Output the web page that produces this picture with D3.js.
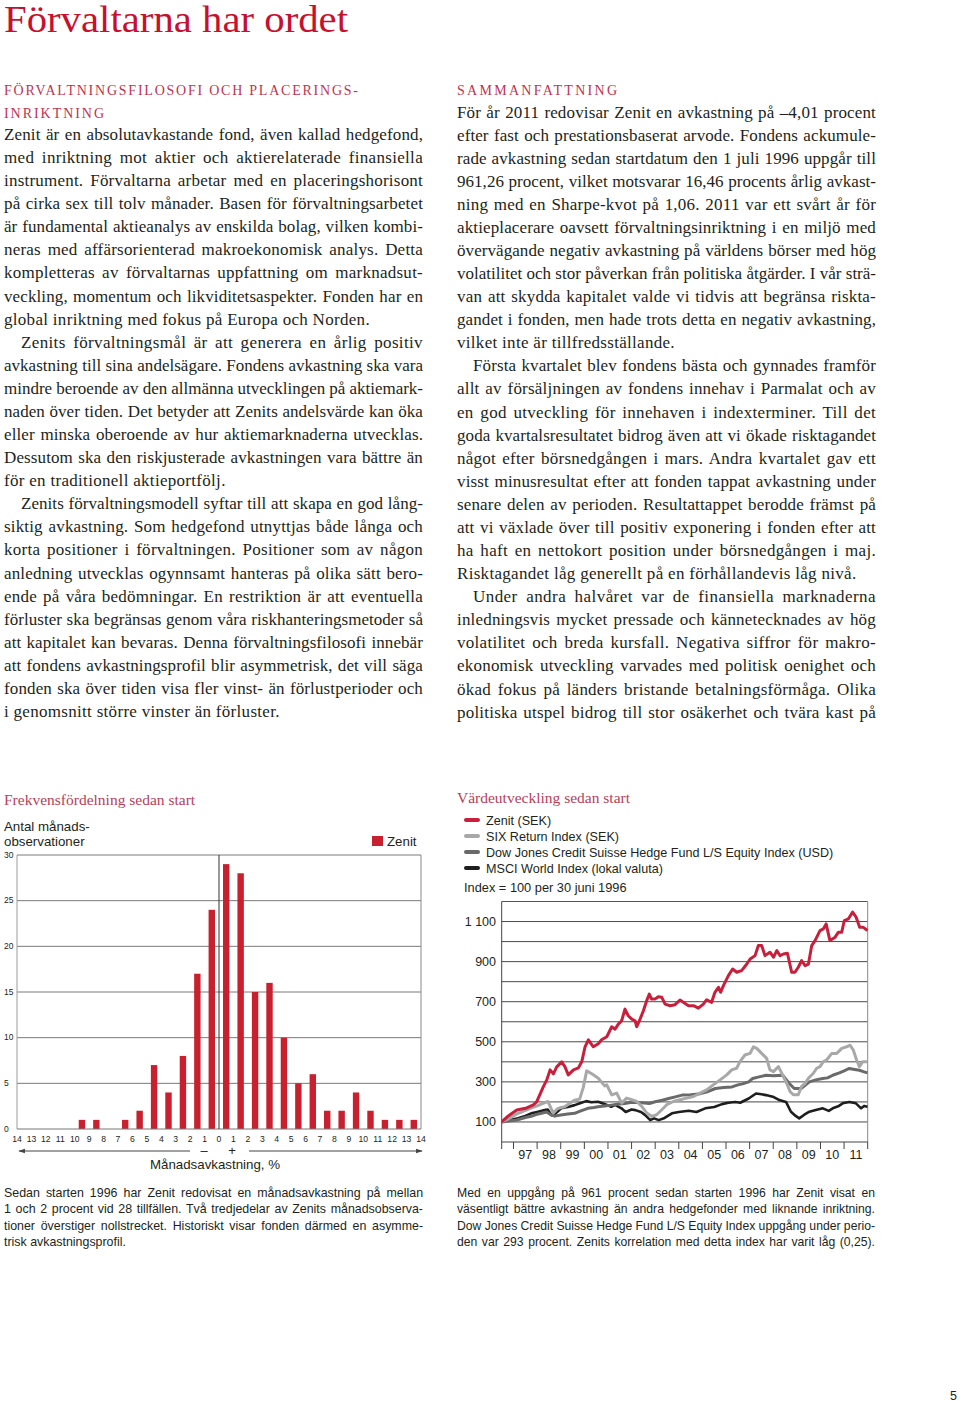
<!DOCTYPE html>
<html><head><meta charset="utf-8">
<script src="https://cdn.jsdelivr.net/npm/d3@7"></script>
<style>
body{margin:0;background:#fff;}
svg{display:block;}
.serif{font-family:"Liberation Serif","Times New Roman",serif;}
.sans{font-family:"Liberation Sans",Arial,sans-serif;}
</style>
</head><body>
<script>
// ---------- DATA ----------
const histBins = [-14,-13,-12,-11,-10,-9,-8,-7,-6,-5,-4,-3,-2,-1,0,1,2,3,4,5,6,7,8,9,10,11,12,13];
const histCounts = [0,0,0,0,1,1,0,1,2,7,4,8,17,24,29,28,15,16,10,5,6,2,2,4,2,1,1,1];
const histTicks = [-14,-13,-12,-11,-10,-9,-8,-7,-6,-5,-4,-3,-2,-1,0,1,2,3,4,5,6,7,8,9,10,11,12,13,14];
const histTickLabels = ["14","13","12","11","10","9","8","7","6","5","4","3","2","1","0","1","2","3","4","5","6","7","8","9","10","11","12","13","14"];
const histYTicks = [0,5,10,15,20,25,30];

const zenit = [[1996.50,100],[1996.78,130],[1997.14,160],[1997.56,170],[1997.84,185],[1997.98,200],[1998.26,275],[1998.41,310],[1998.55,360],[1998.69,340],[1998.83,375],[1999.04,400],[1999.18,375],[1999.32,335],[1999.54,360],[1999.75,370],[1999.89,400],[2000.03,475],[2000.17,510],[2000.38,475],[2000.59,490],[2000.73,510],[2000.95,525],[2001.16,575],[2001.30,563],[2001.44,588],[2001.58,605],[2001.72,663],[2001.86,630],[2002.01,613],[2002.15,605],[2002.22,575],[2002.36,613],[2002.50,655],[2002.64,705],[2002.75,738],[2002.85,713],[2002.99,713],[2003.13,725],[2003.28,722],[2003.42,688],[2003.63,680],[2003.84,685],[2004.05,708],[2004.19,697],[2004.41,680],[2004.62,680],[2004.83,668],[2005.04,688],[2005.18,710],[2005.39,697],[2005.53,747],[2005.68,772],[2005.77,747],[2005.89,780],[2006.10,830],[2006.28,863],[2006.45,847],[2006.66,855],[2006.88,888],[2007.02,913],[2007.23,930],[2007.37,980],[2007.51,980],[2007.65,930],[2007.86,947],[2008.01,922],[2008.15,955],[2008.29,930],[2008.43,938],[2008.60,942],[2008.78,847],[2008.92,847],[2009.06,872],[2009.20,905],[2009.35,880],[2009.49,888],[2009.63,980],[2009.77,1005],[2009.98,1055],[2010.12,1063],[2010.24,1088],[2010.40,1005],[2010.62,1022],[2010.76,1047],[2010.90,1047],[2011.01,1105],[2011.18,1113],[2011.36,1147],[2011.51,1122],[2011.66,1072],[2011.80,1072],[2011.99,1055]];
const six = [[1996.50,100],[1996.78,115],[1997.14,140],[1997.56,160],[1997.74,169],[1998.00,180],[1998.30,195],[1998.46,202],[1998.60,165],[1998.69,145],[1998.85,165],[1999.02,172],[1999.17,176],[1999.40,195],[1999.59,209],[1999.80,214],[1999.95,270],[2000.10,355],[2000.28,343],[2000.38,335],[2000.59,318],[2000.86,280],[2000.95,285],[2001.16,235],[2001.37,244],[2001.58,194],[2001.79,219],[2002.01,211],[2002.22,202],[2002.43,178],[2002.64,145],[2002.85,128],[2003.06,136],[2003.28,161],[2003.49,186],[2003.77,202],[2004.05,211],[2004.33,219],[2004.62,227],[2004.90,244],[2005.18,260],[2005.46,285],[2005.75,310],[2006.03,335],[2006.24,360],[2006.45,368],[2006.59,401],[2006.80,434],[2007.02,442],[2007.16,475],[2007.30,467],[2007.51,442],[2007.72,417],[2007.86,360],[2008.01,351],[2008.22,376],[2008.36,343],[2008.57,293],[2008.71,252],[2008.85,236],[2009.06,236],[2009.20,277],[2009.35,293],[2009.49,318],[2009.70,343],[2009.84,368],[2009.98,376],[2010.12,401],[2010.26,409],[2010.48,442],[2010.69,442],[2010.90,467],[2011.11,475],[2011.25,483],[2011.39,459],[2011.53,409],[2011.65,376],[2011.79,401],[2011.99,401]];
const djcs = [[1996.50,100],[1996.80,105],[1997.14,110],[1997.50,122],[1997.80,130],[1998.05,140],[1998.40,150],[1998.60,135],[1998.74,129],[1999.00,135],[1999.30,140],[1999.59,143],[1999.85,155],[2000.15,168],[2000.40,172],[2000.58,176],[2000.85,180],[2001.14,184],[2001.40,188],[2001.71,192],[2002.00,198],[2002.44,196],[2002.75,192],[2003.00,201],[2003.30,208],[2003.57,217],[2003.85,225],[2004.14,234],[2004.50,236],[2004.84,239],[2005.20,250],[2005.55,267],[2005.90,272],[2006.25,275],[2006.50,285],[2006.70,290],[2006.96,300],[2007.13,317],[2007.40,325],[2007.69,333],[2008.00,330],[2008.40,333],[2008.68,292],[2008.89,267],[2009.18,267],[2009.53,300],[2009.80,310],[2010.10,317],[2010.30,320],[2010.52,333],[2010.80,345],[2011.00,355],[2011.22,367],[2011.45,362],[2011.65,358],[2011.85,350],[2011.99,345]];
const msci = [[1996.50,100],[1996.80,108],[1997.19,118],[1997.50,130],[1997.75,143],[1998.00,150],[1998.32,159],[1998.45,162],[1998.60,134],[1998.75,140],[1999.02,168],[1999.30,175],[1999.59,184],[1999.85,195],[2000.08,204],[2000.30,198],[2000.58,201],[2000.85,190],[2001.14,176],[2001.30,185],[2001.57,168],[2001.75,150],[2002.00,162],[2002.16,159],[2002.40,150],[2002.58,134],[2002.79,109],[2002.95,118],[2003.15,109],[2003.40,120],[2003.71,143],[2004.00,150],[2004.42,156],[2004.75,150],[2005.12,168],[2005.50,175],[2005.83,189],[2006.10,196],[2006.39,200],[2006.60,196],[2006.96,217],[2007.27,242],[2007.50,238],[2007.69,234],[2007.98,226],[2008.26,209],[2008.54,200],[2008.75,151],[2008.95,130],[2009.10,118],[2009.30,135],[2009.53,151],[2009.80,160],[2010.10,168],[2010.35,155],[2010.52,168],[2010.75,178],[2010.94,193],[2011.22,200],[2011.50,193],[2011.72,168],[2011.85,180],[2011.99,176]];
const lineSeriesNames = ["Zenit (SEK)","SIX Return Index (SEK)","Dow Jones Credit Suisse Hedge Fund L/S Equity Index (USD)","MSCI World Index (lokal valuta)"];
const lineYTicks = [100,200,300,400,500,600,700,800,900,1000,1100];
const lineYLabels = [100,300,500,700,900,1100];
const yearTicks = [1996.5,1997,1998,1999,2000,2001,2002,2003,2004,2005,2006,2007,2008,2009,2010,2011,2012];
const yearLabels = ["97","98","99","00","01","02","03","04","05","06","07","08","09","10","11"];

// ---------- TEXT ----------
const leftHead = ["FÖRVALTNINGSFILOSOFI OCH PLACERINGS-","INRIKTNING"];
const leftLines = [
["Zenit är en absolutavkastande fond, även kallad hedgefond,",0,1],
["med inriktning mot aktier och aktierelaterade finansiella",0,1],
["instrument. Förvaltarna arbetar med en placeringshorisont",0,1],
["på cirka sex till tolv månader. Basen för förvaltningsarbetet",0,1],
["är fundamental aktieanalys av enskilda bolag, vilken kombi-",0,1],
["neras med affärsorienterad makroekonomisk analys. Detta",0,1],
["kompletteras av förvaltarnas uppfattning om marknadsut-",0,1],
["veckling, momentum och likviditetsaspekter. Fonden har en",0,1],
["global inriktning med fokus på Europa och Norden.",0,0],
["Zenits förvaltningsmål är att generera en årlig positiv",1,1],
["avkastning till sina andelsägare. Fondens avkastning ska vara",0,1],
["mindre beroende av den allmänna utvecklingen på aktiemark-",0,1],
["naden över tiden. Det betyder att Zenits andelsvärde kan öka",0,1],
["eller minska oberoende av hur aktiemarknaderna utvecklas.",0,1],
["Dessutom ska den riskjusterade avkastningen vara bättre än",0,1],
["för en traditionell aktieportfölj.",0,0],
["Zenits förvaltningsmodell syftar till att skapa en god lång-",1,1],
["siktig avkastning. Som hedgefond utnyttjas både långa och",0,1],
["korta positioner i förvaltningen. Positioner som av någon",0,1],
["anledning utvecklas ogynnsamt hanteras på olika sätt bero-",0,1],
["ende på våra bedömningar. En restriktion är att eventuella",0,1],
["förluster ska begränsas genom våra riskhanteringsmetoder så",0,1],
["att kapitalet kan bevaras. Denna förvaltningsfilosofi innebär",0,1],
["att fondens avkastningsprofil blir asymmetrisk, det vill säga",0,1],
["fonden ska över tiden visa fler vinst- än förlustperioder och",0,1],
["i genomsnitt större vinster än förluster.",0,0]];
const rightLines = [
["För år 2011 redovisar Zenit en avkastning på –4,01 procent",0,1],
["efter fast och prestationsbaserat arvode. Fondens ackumule-",0,1],
["rade avkastning sedan startdatum den 1 juli 1996 uppgår till",0,1],
["961,26 procent, vilket motsvarar 16,46 procents årlig avkast-",0,1],
["ning med en Sharpe-kvot på 1,06. 2011 var ett svårt år för",0,1],
["aktieplacerare oavsett förvaltningsinriktning i en miljö med",0,1],
["övervägande negativ avkastning på världens börser med hög",0,1],
["volatilitet och stor påverkan från politiska åtgärder. I vår strä-",0,1],
["van att skydda kapitalet valde vi tidvis att begränsa riskta-",0,1],
["gandet i fonden, men hade trots detta en negativ avkastning,",0,1],
["vilket inte är tillfredsställande.",0,0],
["Första kvartalet blev fondens bästa och gynnades framför",1,1],
["allt av försäljningen av fondens innehav i Parmalat och av",0,1],
["en god utveckling för innehaven i indexterminer. Till det",0,1],
["goda kvartalsresultatet bidrog även att vi ökade risktagandet",0,1],
["något efter börsnedgången i mars. Andra kvartalet gav ett",0,1],
["visst minusresultat efter att fonden tappat avkastning under",0,1],
["senare delen av perioden. Resultattappet berodde främst på",0,1],
["att vi växlade över till positiv exponering i fonden efter att",0,1],
["ha haft en nettokort position under börsnedgången i maj.",0,1],
["Risktagandet låg generellt på en förhållandevis låg nivå.",0,0],
["Under andra halvåret var de finansiella marknaderna",1,1],
["inledningsvis mycket pressade och kännetecknades av hög",0,1],
["volatilitet och breda kursfall. Negativa siffror för makro-",0,1],
["ekonomisk utveckling varvades med politisk oenighet och",0,1],
["ökad fokus på länders bristande betalningsförmåga. Olika",0,1],
["politiska utspel bidrog till stor osäkerhet och tvära kast på",0,1]];
const leftCaption = [
["Sedan starten 1996 har Zenit redovisat en månadsavkastning på mellan",419],
["1 och 2 procent vid 28 tillfällen. Två tredjedelar av Zenits månadsobserva-",419],
["tioner överstiger nollstrecket. Historiskt visar fonden därmed en asymme-",419],
["trisk avkastningsprofil.",0]];
const rightCaption = [
["Med en uppgång på 961 procent sedan starten 1996 har Zenit visat en",418],
["väsentligt bättre avkastning än andra hedgefonder med liknande inriktning.",418],
["Dow Jones Credit Suisse Hedge Fund L/S Equity Index uppgång under perio-",418],
["den var 293 procent. Zenits korrelation med detta index har varit låg (0,25).",418]];

// ---------- DRAW ----------
const RED = "#c8102e", HEAD = "#c0334f", TXT = "#231f20";
const svg = d3.select("body").append("svg").attr("width",960).attr("height",1402);

// simple text line; optional justification to a target width
function tline(g, str, x, y, target, size, cls, fill, ls){
  const t = g.append("text").attr("x",x).attr("y",y).attr("class",cls)
    .attr("font-size",size).attr("fill",fill||TXT).text(str);
  if(ls) t.attr("letter-spacing",ls);
  if(target){
    const w = t.node().getComputedTextLength();
    const n = (str.match(/ /g)||[]).length;
    if(n>0) t.attr("word-spacing",((target-w)/n).toFixed(2));
    else t.attr("textLength",target).attr("lengthAdjust","spacing");
  }
  return t;
}
// justified body line: split the slack between letter and word spacing
function jline(g, str, x, y, target, size, lsDefault){
  const t = g.append("text").attr("x",x).attr("y",y).attr("class","serif")
    .attr("font-size",size).attr("fill",TXT).text(str);
  if(!target){ t.attr("letter-spacing",lsDefault); return t; }
  const w0 = t.node().getComputedTextLength();
  const diff = target - w0;
  let ls = diff*0.5/str.length;
  ls = Math.max(-0.45, Math.min(0.55, ls));
  t.attr("letter-spacing",ls.toFixed(3));
  const w1 = t.node().getComputedTextLength();
  const n = (str.match(/ /g)||[]).length;
  const w1b = (Math.abs(w1-w0) < 1e-6 && Math.abs(ls)>0.001) ? w0 + ls*str.length : w1;
  if(n>0) t.attr("word-spacing",((target-w1b)/n).toFixed(2));
  return t;
}

// title
svg.append("text").attr("x",4).attr("y",32).attr("class","serif").attr("font-size",37)
  .attr("fill",RED).attr("textLength",344).attr("lengthAdjust","spacingAndGlyphs").text("Förvaltarna har ordet");

// headings
const hg = svg.append("g");
[[leftHead[0],4,95,354],[leftHead[1],4,118,100],["SAMMANFATTNING",457,95,160]].forEach(h=>{
  hg.append("text").attr("x",h[1]).attr("y",h[2]).attr("class","serif").attr("font-size",14)
   .attr("fill",HEAD).attr("textLength",h[3]).attr("lengthAdjust","spacing").text(h[0]);
});

// body columns
const bodyG = svg.append("g");
const LH = 23.08, FS = 17;
leftLines.forEach((l,i)=>{
  const x = l[1] ? 21 : 4;
  const target = l[2]===1 ? 423 - x : 0;
  jline(bodyG, l[0], x, 140 + i*LH, target, FS, 0.3);
});
rightLines.forEach((l,i)=>{
  const x = l[1] ? 473 : 457;
  const target = l[2]===1 ? 876 - x : 0;
  jline(bodyG, l[0], x, 117.5 + i*LH, target, FS, 0.3);
});

// captions
leftCaption.forEach((l,i)=> tline(svg, l[0], 4, 1196.5 + i*16.6, l[1], 12.4, "sans"));
rightCaption.forEach((l,i)=> tline(svg, l[0], 457, 1196.5 + i*16.6, l[1], 12.2, "sans"));

// page number
svg.append("text").attr("x",950).attr("y",1400).attr("class","sans").attr("font-size",12.5).attr("fill",TXT).text("5");

// ---------- HISTOGRAM ----------
const hx = d3.scaleLinear().domain([-14,14]).range([17,421]);
const hy = d3.scaleLinear().domain([0,30]).range([1129,855]);
const h = svg.append("g");
tline(h,"Frekvensfördelning sedan start",4,805,0,15.5,"serif","#b8405a");
tline(h,"Antal månads-",4,831,0,13.3,"sans");
tline(h,"observationer",4,846,0,13.3,"sans");
h.append("rect").attr("x",372).attr("y",836).attr("width",11).attr("height",10).attr("fill","#c8202f");
tline(h,"Zenit",387,846,0,13.3,"sans");
// grid
h.selectAll("line.grid").data(histYTicks.filter(d=>d>0)).enter().append("line")
  .attr("x1",hx(-14)).attr("x2",hx(14)).attr("y1",d=>hy(d)).attr("y2",d=>hy(d))
  .attr("stroke","#7a7a7a").attr("stroke-width",1);
h.append("line").attr("x1",hx(-14)).attr("x2",hx(-14)).attr("y1",hy(30)).attr("y2",hy(0)).attr("stroke","#9a9a9a");
h.append("line").attr("x1",hx(14)).attr("x2",hx(14)).attr("y1",hy(30)).attr("y2",hy(0)).attr("stroke","#8a8a8a");
h.selectAll("text.yl").data(histYTicks).enter().append("text")
  .attr("x",4).attr("y",d=>hy(d)+2.5).attr("class","sans").attr("font-size",8.5).attr("fill",TXT).text(d=>d);
// bars
h.selectAll("rect.bar").data(histBins.map((b,i)=>({b,c:histCounts[i]}))).enter().append("rect")
  .attr("x",d=>hx(d.b+0.5)-3.2).attr("width",6.4)
  .attr("y",d=>hy(d.c)).attr("height",d=>hy(0)-hy(d.c)).attr("fill","#c8202f");
// zero axis lines
h.append("line").attr("x1",hx(-14)).attr("x2",hx(14)).attr("y1",hy(0)).attr("y2",hy(0)).attr("stroke","#777");
h.append("line").attr("x1",hx(0)).attr("x2",hx(0)).attr("y1",hy(30)).attr("y2",hy(0)).attr("stroke","#333").attr("stroke-width",1);
// x tick labels
h.selectAll("text.xl").data(histTicks).enter().append("text")
  .attr("x",d=>hx(d)).attr("y",1142).attr("text-anchor","middle").attr("class","sans")
  .attr("font-size",8.6).attr("fill",TXT).text((d,i)=>histTickLabels[i]);
// arrows
const defs = svg.append("defs");
defs.append("marker").attr("id","ah").attr("viewBox","0 0 10 10").attr("refX",9).attr("refY",5)
  .attr("markerWidth",6).attr("markerHeight",6).attr("orient","auto-start-reverse")
  .append("path").attr("d","M0,1.5L10,5L0,8.5Z").attr("fill","#444");
h.append("line").attr("x1",190).attr("x2",19).attr("y1",1151).attr("y2",1151).attr("stroke","#444").attr("stroke-width",1.1).attr("marker-end","url(#ah)");
h.append("line").attr("x1",249).attr("x2",422).attr("y1",1151).attr("y2",1151).attr("stroke","#444").attr("stroke-width",1.1).attr("marker-end","url(#ah)");
h.append("text").attr("x",204).attr("y",1155).attr("text-anchor","middle").attr("class","sans").attr("font-size",13).attr("fill",TXT).text("–");
h.append("text").attr("x",232).attr("y",1155).attr("text-anchor","middle").attr("class","sans").attr("font-size",13).attr("fill",TXT).text("+");
h.append("text").attr("x",215).attr("y",1169).attr("text-anchor","middle").attr("class","sans").attr("font-size",13.3).attr("fill",TXT).text("Månadsavkastning, %");

// ---------- LINE CHART ----------
const lx = d3.scaleLinear().domain([1996.5,2012]).range([501.7,867.7]);
const ly = d3.scaleLinear().domain([0,1200]).range([1142,901.5]);
const L = svg.append("g");
tline(L,"Värdeutveckling sedan start",457,803,0,15.5,"serif","#b8405a");
const legColors = ["#c8203c","#a8a8a8","#6a6a6a","#1e1e1e"];
lineSeriesNames.forEach((n,i)=>{
  const yy = 820 + i*16;
  L.append("line").attr("x1",466).attr("x2",478).attr("y1",yy).attr("y2",yy)
    .attr("stroke",legColors[i]).attr("stroke-width",4).attr("stroke-linecap","round");
  tline(L,n,486,yy+4.5,0,12.6,"sans");
});
tline(L,"Index = 100 per 30 juni 1996",464,892,0,12.8,"sans");
// grid
L.selectAll("line.g").data(lineYTicks).enter().append("line")
  .attr("x1",lx(1996.5)).attr("x2",lx(2012)).attr("y1",d=>ly(d)).attr("y2",d=>ly(d))
  .attr("stroke","#4a4a4a").attr("stroke-width",1);
L.append("line").attr("x1",lx(1996.5)).attr("x2",lx(2012)).attr("y1",ly(1200)).attr("y2",ly(1200)).attr("stroke","#555");
L.append("line").attr("x1",lx(1996.5)).attr("x2",lx(1996.5)).attr("y1",ly(1200)).attr("y2",ly(0)).attr("stroke","#444");
L.append("line").attr("x1",lx(2012)).attr("x2",lx(2012)).attr("y1",ly(1200)).attr("y2",ly(0)).attr("stroke","#888");
L.append("line").attr("x1",lx(1996.5)).attr("x2",lx(2012)).attr("y1",ly(0)).attr("y2",ly(0)).attr("stroke","#444");
L.selectAll("line.t").data(yearTicks).enter().append("line")
  .attr("x1",d=>lx(d)).attr("x2",d=>lx(d)).attr("y1",ly(0)).attr("y2",ly(0)+7).attr("stroke","#444");
L.selectAll("text.yl").data(lineYLabels).enter().append("text")
  .attr("x",496).attr("y",d=>ly(d)+4.5).attr("text-anchor","end").attr("class","sans")
  .attr("font-size",12.5).attr("fill",TXT).text(d=>d>=1000? d3.format(",")(d).replace(","," ") : d);
L.selectAll("text.xl").data(yearLabels).enter().append("text")
  .attr("x",(d,i)=>lx(1997.5+i)).attr("y",1158.5).attr("text-anchor","middle").attr("class","sans")
  .attr("font-size",12.5).attr("fill",TXT).text(d=>d);
const line = d3.line().x(d=>lx(d[0])).y(d=>ly(d[1]));
[[msci,"#1e1e1e",2.6],[djcs,"#6a6a6a",3],[six,"#a8a8a8",3],[zenit,"#c8203c",3]].forEach(s=>{
  L.append("path").datum(s[0]).attr("d",line).attr("fill","none").attr("stroke",s[1])
   .attr("stroke-width",s[2]).attr("stroke-linejoin","round");
});
</script>
</body></html>
